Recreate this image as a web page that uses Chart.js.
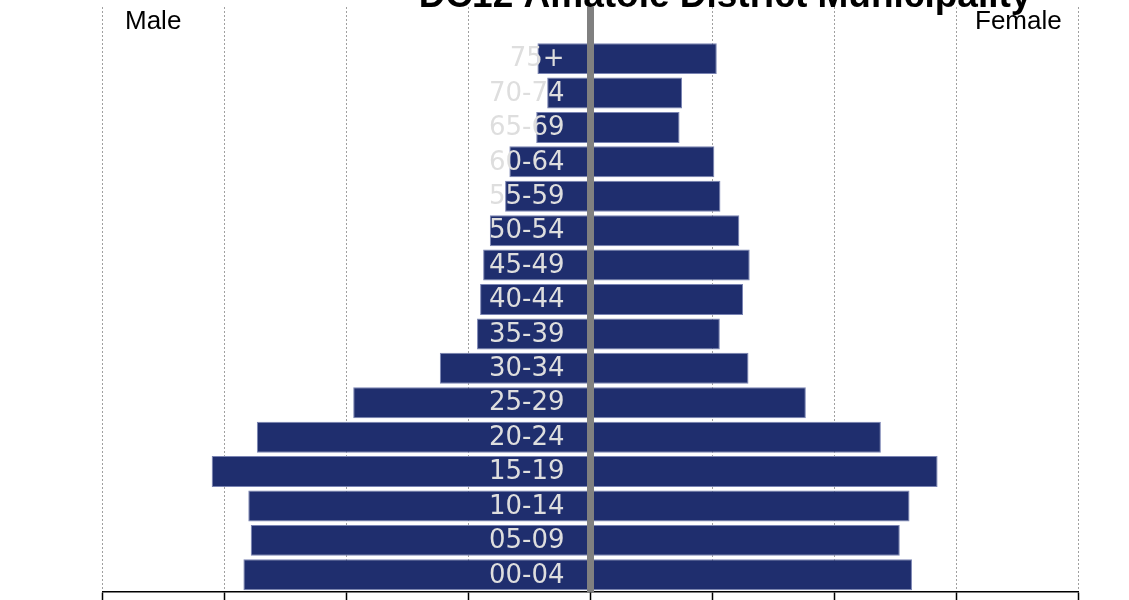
<!DOCTYPE html>
<html>
<head>
<meta charset="utf-8">
<script src="https://cdn.jsdelivr.net/npm/chart.js@4/dist/chart.umd.min.js"></script>
<style>
  html, body { margin: 0; padding: 0; background: #fff; overflow: hidden; }
  #pyramid { display: block; }
</style>
</head>
<body>
<canvas id="pyramid" width="1129" height="600"></canvas>
<script>
// age groups from youngest to oldest, values in % of total population
const ageGroups = ['00-04','05-09','10-14','15-19','20-24','25-29','30-34','35-39',
                   '40-44','45-49','50-54','55-59','60-64','65-69','70-74','75+'];
const male   = [5.69, 5.57, 5.61, 6.21, 5.47, 3.89, 2.47, 1.86, 1.81, 1.76, 1.65, 1.40, 1.33, 0.89, 0.71, 0.87];
const female = [5.27, 5.07, 5.23, 5.69, 4.76, 3.53, 2.59, 2.12, 2.50, 2.61, 2.44, 2.13, 2.03, 1.46, 1.50, 2.07];
const axisMax = 8;
const axisStep = 2;

const chartTitle = 'DC12 Amatole District Municipality';
const barColor = '#1f2e6e';

// blank band at the top where Male / Female sit
const labels = ageGroups.concat(['']);

const pyramidText = {
  id: 'pyramidText',
  afterDatasetsDraw(chart) {
    const ctx = chart.ctx;
    const xs = chart.scales.x, ys = chart.scales.y;
    const area = chart.chartArea;
    const x0 = xs.getPixelForValue(0);
    ctx.save();
    // grey zero line on top of the bars
    ctx.strokeStyle = '#808080';
    ctx.lineWidth = 7;
    ctx.beginPath();
    ctx.moveTo(x0, area.top);
    ctx.lineTo(x0, area.bottom);
    ctx.stroke();

    ctx.font = '26px "DejaVu Sans"';
    ctx.fillStyle = '#dedede';
    ctx.textAlign = 'right';
    ctx.textBaseline = 'middle';
    ageGroups.forEach((g, i) => {
      ctx.fillText(g, x0 - 26, ys.getPixelForValue(i) + 1);
    });
    ctx.restore();
  },
  afterDraw(chart) {
    const ctx = chart.ctx;
    ctx.save();
    ctx.fillStyle = '#000';
    ctx.textBaseline = 'alphabetic';
    ctx.font = 'bold 37px "Liberation Sans", Arial, sans-serif';
    ctx.textAlign = 'center';
    ctx.fillText(chartTitle, 725, 7);
    ctx.font = '26px "Liberation Sans", Arial, sans-serif';
    ctx.textAlign = 'left';
    ctx.fillText('Male', 125, 29);
    ctx.fillText('Female', 975, 29);
    ctx.restore();
  }
};

new Chart(document.getElementById('pyramid'), {
  type: 'bar',
  data: {
    labels: labels,
    datasets: [{
      label: 'Male',
      data: male.map(v => -v).concat([null]),
      backgroundColor: barColor,
      borderColor: '#7a84b3',
      borderWidth: 1,
      borderSkipped: false
    }, {
      label: 'Female',
      data: female.concat([null]),
      backgroundColor: barColor,
      borderColor: '#7a84b3',
      borderWidth: 1,
      borderSkipped: false
    }]
  },
  options: {
    indexAxis: 'y',
    responsive: false,
    animation: false,
    layout: { padding: { left: 102.5, right: 50.5, top: 7, bottom: 0 } },
    datasets: { bar: { categoryPercentage: 0.9, barPercentage: 1 } },
    scales: {
      x: {
        type: 'linear',
        position: 'bottom',
        stacked: true,
        min: -axisMax,
        max: axisMax,
        ticks: { display: false, stepSize: axisStep },
        grid: {
          color: '#a0a0a0',
          lineWidth: 1,
          tickLength: 8,
          tickColor: '#000',
          tickWidth: 1.5,
          tickBorderDash: []
        },
        border: { color: '#000', width: 1.5, dash: [2, 2] }
      },
      y: {
        type: 'category',
        position: { x: 0 },
        stacked: true,
        reverse: true,
        ticks: { display: false },
        grid: { display: false },
        border: { display: false }
      }
    },
    plugins: {
      legend: { display: false },
      tooltip: { enabled: false },
      title: { display: false }
    }
  },
  plugins: [pyramidText]
});
</script>
</body>
</html>
